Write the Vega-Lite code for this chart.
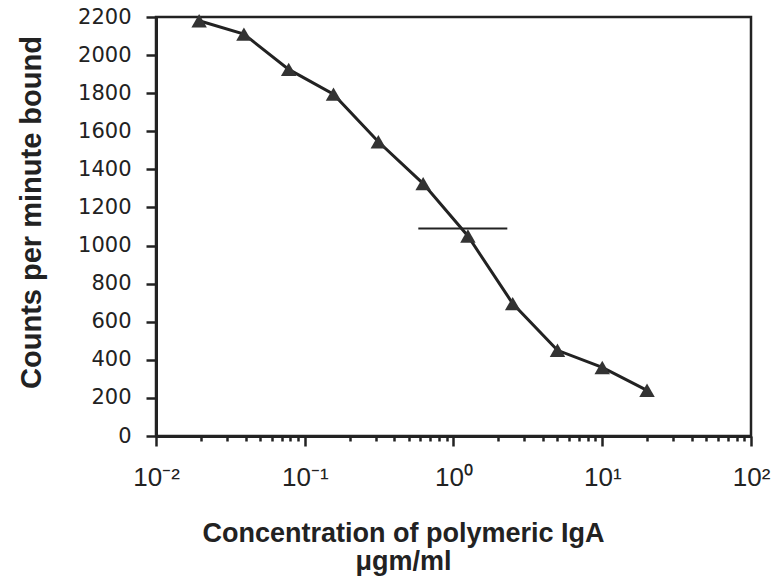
{
  "$schema": "https://vega.github.io/schema/vega-lite/v6.json",
  "autosize": {"type": "none"},
  "padding": {"left": 156, "top": 17, "right": 23, "bottom": 150},
  "width": 595,
  "height": 419,
  "background": "white",
  "config": {
    "view": {"stroke": "#222", "strokeWidth": 2.5},
    "axis": {
      "domainColor": "#222",
      "domainWidth": 3,
      "tickColor": "#222",
      "tickWidth": 2.5,
      "labelColor": "#222",
      "titleColor": "#222",
      "grid": false
    }
  },
  "datasets": {
    "binding": [
      {"conc": 0.0195, "cpm": 2180},
      {"conc": 0.039, "cpm": 2110},
      {"conc": 0.078, "cpm": 1925},
      {"conc": 0.156, "cpm": 1795},
      {"conc": 0.3125, "cpm": 1545},
      {"conc": 0.625, "cpm": 1325},
      {"conc": 1.25, "cpm": 1050},
      {"conc": 2.5, "cpm": 695},
      {"conc": 5, "cpm": 450},
      {"conc": 10, "cpm": 360},
      {"conc": 20, "cpm": 240}
    ],
    "halfmax": [
      {"conc": 0.58, "conc_hi": 2.3, "cpm": 1090}
    ]
  },
  "encoding": {
    "x": {
      "field": "conc",
      "type": "quantitative",
      "scale": {"type": "log", "domain": [0.01, 100], "nice": false},
      "axis": {
        "title": ["Concentration of polymeric IgA", "μgm/ml"],
        "titleFont": "Liberation Sans",
        "titleFontWeight": "bold",
        "titleFontSize": 27,
        "titleLineHeight": 28,
        "titleBaseline": "alphabetic",
        "titleAlign": "center",
        "titleX": 247,
        "titleY": 105,
        "values": [0.01, 0.02, 0.03, 0.04, 0.05, 0.06, 0.07, 0.08, 0.09,
                   0.1, 0.2, 0.3, 0.4, 0.5, 0.6, 0.7, 0.8, 0.9,
                   1, 2, 3, 4, 5, 6, 7, 8, 9,
                   10, 20, 30, 40, 50, 60, 70, 80, 90, 100],
        "labelExpr": "datum.value == 0.01 ? '10⁻²' : datum.value == 0.1 ? '10⁻¹' : datum.value == 1 ? '10⁰' : datum.value == 10 ? '10¹' : datum.value == 100 ? '10²' : ''",
        "labelFont": "Liberation Sans",
        "labelFontSize": 26,
        "labelBaseline": "alphabetic",
        "labelPadding": 39,
        "labelOverlap": false,
        "labelFlush": false,
        "tickSize": {
          "condition": {"test": "datum.value == 0.01 || datum.value == 0.1 || datum.value == 1 || datum.value == 10 || datum.value == 100", "value": 10},
          "value": 5
        }
      }
    },
    "y": {
      "field": "cpm",
      "type": "quantitative",
      "scale": {"domain": [0, 2200], "nice": false},
      "axis": {
        "title": "Counts per minute bound",
        "titleFont": "Liberation Sans",
        "titleFontWeight": "bold",
        "titleFontSize": 29,
        "titleAngle": 270,
        "titleBaseline": "alphabetic",
        "titleAlign": "center",
        "titleX": -116,
        "titleY": 195,
        "values": [0, 200, 400, 600, 800, 1000, 1200, 1400, 1600, 1800, 2000, 2200],
        "format": "d",
        "labelOverlap": false,
        "labelFlush": false,
        "labelFont": "DejaVu Sans",
        "labelFontSize": 21,
        "labelPadding": 15,
        "tickSize": 10
      }
    }
  },
  "layer": [
    {
      "data": {"name": "binding"},
      "mark": {"type": "line", "color": "#222", "strokeWidth": 3}
    },
    {
      "data": {"name": "binding"},
      "mark": {"type": "point", "shape": "triangle-up", "filled": true, "color": "#333", "size": 240, "opacity": 1}
    },
    {
      "data": {"name": "halfmax"},
      "mark": {"type": "rule", "color": "#222", "strokeWidth": 2},
      "encoding": {
        "x2": {"field": "conc_hi"}
      }
    }
  ]
}
